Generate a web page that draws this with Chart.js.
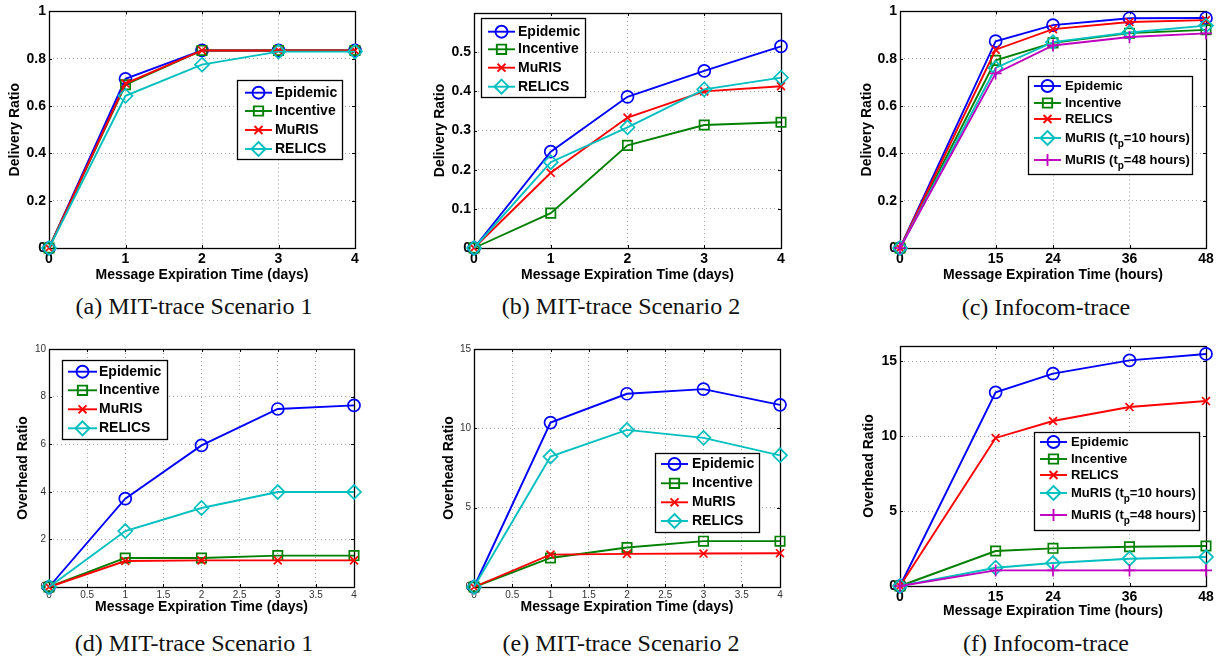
<!DOCTYPE html>
<html>
<head>
<meta charset="utf-8">
<script src="https://cdn.jsdelivr.net/npm/chart.js@4/dist/chart.umd.min.js"></script>
<style>
  html, body { margin: 0; padding: 0; background: #fff; }
  body { position: relative; width: 1224px; height: 660px; overflow: hidden; }
  canvas { position: absolute; }
  .cap { position: absolute; width: 400px; text-align: center; font-family: 'Liberation Serif', 'Times New Roman', serif; font-size: 24px; line-height: 24px; color: #111; white-space: nowrap; }
</style>
</head>
<body>
<div class="cap" style="left:-6px; top:294px;">(a) MIT-trace Scenario 1</div>
<div class="cap" style="left:421px; top:294px;">(b) MIT-trace Scenario 2</div>
<div class="cap" style="left:846px; top:295px;">(c) Infocom-trace</div>
<div class="cap" style="left:-6px; top:631px;">(d) MIT-trace Scenario 1</div>
<div class="cap" style="left:421px; top:631px;">(e) MIT-trace Scenario 2</div>
<div class="cap" style="left:846px; top:631px;">(f) Infocom-trace</div>
<script>
// ---------------- DATA ----------------
const daysX  = [0, 1, 2, 3, 4];
const hoursX = [0, 15, 24, 36, 48];

// (a) MIT-trace Scenario 1 - Delivery Ratio
const a_epidemic  = [0, 0.715, 0.835, 0.835, 0.835];
const a_incentive = [0, 0.690, 0.835, 0.835, 0.835];
const a_muris     = [0, 0.695, 0.835, 0.835, 0.835];
const a_relics    = [0, 0.643, 0.775, 0.830, 0.830];
// (b) MIT-trace Scenario 2 - Delivery Ratio
const b_epidemic  = [0, 0.246, 0.386, 0.452, 0.515];
const b_incentive = [0, 0.089, 0.262, 0.314, 0.321];
const b_muris     = [0, 0.192, 0.333, 0.400, 0.413];
const b_relics    = [0, 0.219, 0.308, 0.405, 0.435];
// (c) Infocom-trace - Delivery Ratio
const c_epidemic  = [0, 0.874, 0.942, 0.971, 0.972];
const c_incentive = [0, 0.793, 0.867, 0.908, 0.922];
const c_relics    = [0, 0.838, 0.925, 0.955, 0.963];
const c_muris10   = [0, 0.761, 0.870, 0.911, 0.940];
const c_muris48   = [0, 0.738, 0.856, 0.892, 0.907];
// (d) MIT-trace Scenario 1 - Overhead Ratio
const d_epidemic  = [0, 3.71, 5.95, 7.48, 7.63];
const d_incentive = [0, 1.22, 1.22, 1.32, 1.32];
const d_muris     = [0, 1.09, 1.12, 1.12, 1.12];
const d_relics    = [0, 2.35, 3.32, 3.99, 3.99];
// (e) MIT-trace Scenario 2 - Overhead Ratio
const e_epidemic  = [0, 10.36, 12.18, 12.47, 11.48];
const e_incentive = [0, 1.83, 2.49, 2.89, 2.89];
const e_muris     = [0, 2.04, 2.09, 2.11, 2.13];
const e_relics    = [0, 8.22, 9.90, 9.40, 8.30];
// (f) Infocom-trace - Overhead Ratio
const f_epidemic  = [0, 12.91, 14.16, 15.04, 15.47];
const f_incentive = [0, 2.33, 2.51, 2.62, 2.67];
const f_relics    = [0, 9.87, 11.00, 11.93, 12.33];
const f_muris10   = [0, 1.22, 1.53, 1.82, 1.93];
const f_muris48   = [0, 1.04, 1.04, 1.04, 1.04];

// tick values
const dayTicks      = [0, 1, 2, 3, 4];
const dayHalfTicks  = [0, 0.5, 1, 1.5, 2, 2.5, 3, 3.5, 4];
const hourTicks     = [0, 15, 24, 36, 48];
const delivTicksA   = [0, 0.2, 0.4, 0.6, 0.8, 1];
const delivTicksB   = [0, 0.1, 0.2, 0.3, 0.4, 0.5];
const ovTicksD      = [0, 2, 4, 6, 8, 10];
const ovTicksE      = [0, 5, 10, 15];
const ovTicksF      = [0, 5, 10, 15];

// labels
const xDaysTitle  = 'Message Expiration Time (days)';
const xHoursTitle = 'Message Expiration Time (hours)';
const yDelivTitle = 'Delivery Ratio';
const yOverTitle  = 'Overhead Ratio';

// ---------------- STYLE ----------------
const BLUE = '#0000ff', GREEN = '#008000', RED = '#ff0000', CYAN = '#00bfbf', MAGENTA = '#bf00bf';
const markerR = { circle: 6, rect: 6.6, crossRot: 5.6, rectRot: 7, cross: 6 };
const FONT = "'Liberation Sans', Arial, Helvetica, sans-serif";

function fmt(v) { return String(Math.round(v * 100) / 100); }

const framePlugin = {
  id: 'frame',
  beforeDatasetsDraw(chart) {
    const { ctx, chartArea: ca } = chart;
    const xs = chart.scales.x, ys = chart.scales.y;
    ctx.save();
    ctx.strokeStyle = '#000';
    ctx.lineWidth = 1;
    ctx.beginPath();
    const tl = 3;
    xs.ticks.forEach(t => {
      const px = Math.round(xs.getPixelForValue(t.value)) + 0.5;
      ctx.moveTo(px, ca.bottom); ctx.lineTo(px, ca.bottom - tl);
      ctx.moveTo(px, ca.top); ctx.lineTo(px, ca.top + tl);
    });
    ys.ticks.forEach(t => {
      const py = Math.round(ys.getPixelForValue(t.value)) + 0.5;
      ctx.moveTo(ca.left, py); ctx.lineTo(ca.left + tl, py);
      ctx.moveTo(ca.right, py); ctx.lineTo(ca.right - tl, py);
    });
    ctx.stroke();
    ctx.lineWidth = 1.3;
    ctx.strokeRect(Math.round(ca.left) + 0.5, Math.round(ca.top) + 0.5,
                   Math.round(ca.right) - Math.round(ca.left), Math.round(ca.bottom) - Math.round(ca.top));
    ctx.restore();
  }
};

function drawMarker(ctx, style, r, x, y) {
  ctx.beginPath();
  if (style === 'circle') { ctx.arc(x, y, r, 0, Math.PI * 2); }
  else if (style === 'rect') { const s = r * Math.SQRT1_2; ctx.rect(x - s, y - s, 2 * s, 2 * s); }
  else if (style === 'rectRot') { ctx.moveTo(x, y - r); ctx.lineTo(x + r, y); ctx.lineTo(x, y + r); ctx.lineTo(x - r, y); ctx.closePath(); }
  else if (style === 'crossRot') { const s = r * Math.SQRT1_2; ctx.moveTo(x - s, y - s); ctx.lineTo(x + s, y + s); ctx.moveTo(x + s, y - s); ctx.lineTo(x - s, y + s); }
  else if (style === 'cross') { ctx.moveTo(x, y - r); ctx.lineTo(x, y + r); ctx.moveTo(x - r, y); ctx.lineTo(x + r, y); }
  ctx.stroke();
}

const legendPlugin = {
  id: 'boxLegend',
  afterDatasetsDraw(chart, args, o) {
    if (!o || !o.box) return;
    const { ctx } = chart;
    const b = o.box;
    const fs = b.fs || 14;
    ctx.save();
    ctx.fillStyle = '#fff';
    ctx.fillRect(b.x, b.y, b.w, b.h);
    ctx.strokeStyle = '#000';
    ctx.lineWidth = 1.3;
    ctx.strokeRect(b.x + 0.5, b.y + 0.5, b.w, b.h);
    chart.data.datasets.forEach((ds, i) => {
      const cy = b.y + b.rows[i];
      ctx.strokeStyle = ds.borderColor;
      ctx.lineWidth = ds.borderWidth;
      ctx.beginPath();
      ctx.moveTo(b.x + b.l0, cy); ctx.lineTo(b.x + b.l1, cy);
      ctx.stroke();
      drawMarker(ctx, ds.pointStyle, ds.pointRadius, b.x + (b.l0 + b.l1) / 2, cy);
      // text with optional subscript "_x"
      ctx.fillStyle = '#000';
      ctx.textBaseline = 'middle';
      ctx.textAlign = 'left';
      let tx = b.x + b.tx;
      const parts = ds.label.split(/_(.)/);
      parts.forEach((p, k) => {
        if (k % 2 === 1) {
          ctx.font = 'bold ' + Math.round(fs * 0.75) + 'px ' + FONT;
          ctx.fillText(p, tx, cy + 6);
          tx += ctx.measureText(p).width;
        } else {
          ctx.font = 'bold ' + fs + 'px ' + FONT;
          ctx.fillText(p, tx, cy);
          tx += ctx.measureText(p).width;
        }
      });
    });
    ctx.restore();
  }
};

function makePanel(p) {
  const canvas = document.createElement('canvas');
  canvas.width = p.w; canvas.height = p.h;
  canvas.style.left = p.left + 'px';
  canvas.style.top = p.top + 'px';
  document.body.appendChild(canvas);
  const n = p.series.length;
  const tickFont = p.smallTicks ? { family: FONT, size: 10 } : { family: FONT, size: 14, weight: 'bold' };
  const tickColor = p.smallTicks ? '#333' : '#000';
  const titleFont = { family: FONT, size: 14, weight: 'bold' };
  new Chart(canvas, {
    type: 'line',
    data: {
      datasets: p.series.map((s, i) => ({
        label: s.label,
        data: p.x.map((xv, j) => ({ x: xv, y: s.values[j] })),
        borderColor: s.color,
        backgroundColor: 'rgba(0,0,0,0)',
        borderWidth: 1.9,
        fill: false,
        tension: 0,
        pointStyle: s.marker,
        pointRadius: markerR[s.marker],
        pointBorderWidth: 1.7,
        pointBorderColor: s.color,
        pointBackgroundColor: 'rgba(0,0,0,0)',
        clip: false,
        order: n - i
      }))
    },
    options: {
      responsive: false,
      animation: false,
      events: [],
      layout: { padding: { left: 0, top: p.ca.top, right: p.w - p.ca.right, bottom: 0 } },
      plugins: {
        legend: { display: false },
        tooltip: { enabled: false },
        boxLegend: { box: p.legend }
      },
      scales: {
        x: {
          type: 'linear', min: p.xMin, max: p.xMax,
          afterBuildTicks: s => { s.ticks = p.xTicks.map(v => ({ value: v })); },
          afterFit: s => { s.height = p.h - p.ca.bottom; },
          grid: { color: '#a8a8a8', lineWidth: 1, drawTicks: false },
          border: { display: false, dash: [1, 3] },
          ticks: { font: tickFont, color: tickColor, padding: p.xTickPad, maxRotation: 0, autoSkip: false, callback: v => fmt(v) },
          title: { display: true, text: p.xTitle, font: titleFont, color: '#000',
                   padding: { top: 0, bottom: Math.max(0, p.h - 8.4 - p.xTitleY) } }
        },
        y: {
          type: 'linear', min: p.yMin, max: p.yMax,
          afterBuildTicks: s => { s.ticks = p.yTicks.map(v => ({ value: v })); },
          afterFit: s => { s.width = p.ca.left; },
          grid: { color: '#a8a8a8', lineWidth: 1, drawTicks: false },
          border: { display: false, dash: [1, 3] },
          ticks: { font: tickFont, color: tickColor, padding: 3, autoSkip: false, callback: v => fmt(v) },
          title: { display: true, text: p.yTitle, font: titleFont, color: '#000',
                   padding: { top: p.yTitleX - 8.4, bottom: 0 } }
        }
      }
    },
    plugins: [framePlugin, legendPlugin]
  });
}

// ---------------- PANELS ----------------
makePanel({
  left: 0, top: 0, w: 410, h: 290, ca: { left: 49, top: 9, right: 355, bottom: 248 },
  x: daysX, xMin: 0, xMax: 4, xTicks: dayTicks, yMin: 0, yMax: 1, yTicks: delivTicksA,
  xTitle: xDaysTitle, yTitle: yDelivTitle, xTitleY: 275, yTitleX: 15, xTickPad: 2.6,
  series: [
    { label: 'Epidemic', values: a_epidemic, color: BLUE, marker: 'circle' },
    { label: 'Incentive', values: a_incentive, color: GREEN, marker: 'rect' },
    { label: 'MuRIS', values: a_muris, color: RED, marker: 'crossRot' },
    { label: 'RELICS', values: a_relics, color: CYAN, marker: 'rectRot' }
  ],
  legend: { x: 237, y: 80, w: 105, h: 79, rows: [12.7, 31, 50, 69], l0: 8, l1: 35, tx: 38 }
});

makePanel({
  left: 410, top: 0, w: 410, h: 290, ca: { left: 64, top: 13, right: 371, bottom: 248 },
  x: daysX, xMin: 0, xMax: 4, xTicks: dayTicks, yMin: 0, yMax: 0.6, yTicks: delivTicksB,
  xTitle: xDaysTitle, yTitle: yDelivTitle, xTitleY: 275, yTitleX: 30, xTickPad: 2.6,
  series: [
    { label: 'Epidemic', values: b_epidemic, color: BLUE, marker: 'circle' },
    { label: 'Incentive', values: b_incentive, color: GREEN, marker: 'rect' },
    { label: 'MuRIS', values: b_muris, color: RED, marker: 'crossRot' },
    { label: 'RELICS', values: b_relics, color: CYAN, marker: 'rectRot' }
  ],
  legend: { x: 71, y: 18, w: 104, h: 79, rows: [13.7, 31.3, 49.7, 68.7], l0: 7, l1: 34, tx: 37 }
});

makePanel({
  left: 820, top: 0, w: 404, h: 290, ca: { left: 80, top: 9, right: 386, bottom: 248 },
  x: hoursX, xMin: 0, xMax: 48, xTicks: hourTicks, yMin: 0, yMax: 1, yTicks: delivTicksA,
  xTitle: xHoursTitle, yTitle: yDelivTitle, xTitleY: 275, yTitleX: 47, xTickPad: 2.6,
  series: [
    { label: 'Epidemic', values: c_epidemic, color: BLUE, marker: 'circle' },
    { label: 'Incentive', values: c_incentive, color: GREEN, marker: 'rect' },
    { label: 'RELICS', values: c_relics, color: RED, marker: 'crossRot' },
    { label: 'MuRIS (t_p=10 hours)', values: c_muris10, color: CYAN, marker: 'rectRot' },
    { label: 'MuRIS (t_p=48 hours)', values: c_muris48, color: MAGENTA, marker: 'cross' }
  ],
  legend: { x: 208, y: 76, w: 164, h: 98, rows: [10, 27, 43, 62, 84], l0: 6, l1: 33, tx: 37, fs: 13 }
});

makePanel({
  left: 0, top: 320, w: 410, h: 300, ca: { left: 49, top: 29, right: 354, bottom: 267 },
  x: daysX, xMin: 0, xMax: 4, xTicks: dayHalfTicks, yMin: 0, yMax: 10, yTicks: ovTicksD, smallTicks: true,
  xTitle: xDaysTitle, yTitle: yOverTitle, xTitleY: 287, yTitleX: 23, xTickPad: 2.3,
  series: [
    { label: 'Epidemic', values: d_epidemic, color: BLUE, marker: 'circle' },
    { label: 'Incentive', values: d_incentive, color: GREEN, marker: 'rect' },
    { label: 'MuRIS', values: d_muris, color: RED, marker: 'crossRot' },
    { label: 'RELICS', values: d_relics, color: CYAN, marker: 'rectRot' }
  ],
  legend: { x: 62, y: 40, w: 105, h: 79, rows: [11.7, 30.3, 49.3, 68.3], l0: 6, l1: 35, tx: 37 }
});

makePanel({
  left: 410, top: 320, w: 410, h: 300, ca: { left: 64, top: 29, right: 370, bottom: 267 },
  x: daysX, xMin: 0, xMax: 4, xTicks: dayHalfTicks, yMin: 0, yMax: 15, yTicks: ovTicksE, smallTicks: true,
  xTitle: xDaysTitle, yTitle: yOverTitle, xTitleY: 287, yTitleX: 39, xTickPad: 2.3,
  series: [
    { label: 'Epidemic', values: e_epidemic, color: BLUE, marker: 'circle' },
    { label: 'Incentive', values: e_incentive, color: GREEN, marker: 'rect' },
    { label: 'MuRIS', values: e_muris, color: RED, marker: 'crossRot' },
    { label: 'RELICS', values: e_relics, color: CYAN, marker: 'rectRot' }
  ],
  legend: { x: 245, y: 133, w: 104, h: 79, rows: [11, 30.3, 49.3, 68], l0: 6, l1: 33, tx: 37 }
});

makePanel({
  left: 820, top: 320, w: 404, h: 300, ca: { left: 80, top: 26, right: 386, bottom: 266 },
  x: hoursX, xMin: 0, xMax: 48, xTicks: hourTicks, yMin: 0, yMax: 16, yTicks: ovTicksF,
  xTitle: xHoursTitle, yTitle: yOverTitle, xTitleY: 292, yTitleX: 49, xTickPad: 2.3,
  series: [
    { label: 'Epidemic', values: f_epidemic, color: BLUE, marker: 'circle' },
    { label: 'Incentive', values: f_incentive, color: GREEN, marker: 'rect' },
    { label: 'RELICS', values: f_relics, color: RED, marker: 'crossRot' },
    { label: 'MuRIS (t_p=10 hours)', values: f_muris10, color: CYAN, marker: 'rectRot' },
    { label: 'MuRIS (t_p=48 hours)', values: f_muris48, color: MAGENTA, marker: 'cross' }
  ],
  legend: { x: 214, y: 112, w: 165, h: 98, rows: [10, 27, 43, 61, 83], l0: 6, l1: 33, tx: 37, fs: 13 }
});
</script>
</body>
</html>
